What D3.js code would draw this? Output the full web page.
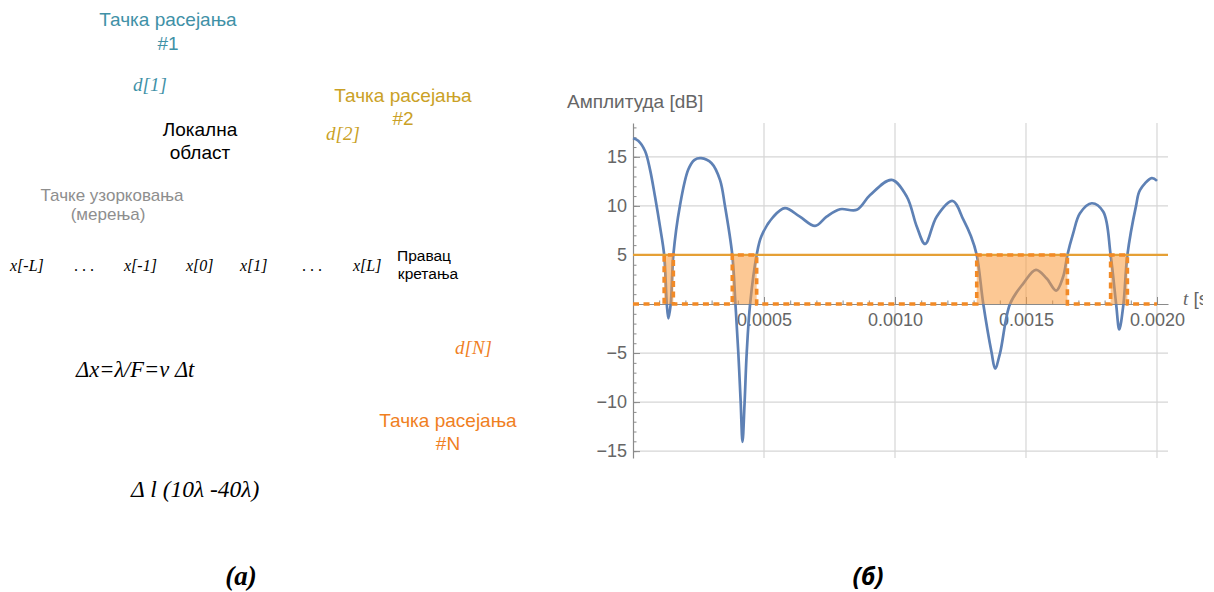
<!DOCTYPE html>
<html>
<head>
<meta charset="utf-8">
<script src="https://cdn.jsdelivr.net/npm/d3@7"></script>
<style>
  html, body { margin: 0; padding: 0; background: #ffffff; }
  svg { display: block; }
</style>
</head>
<body>
<svg id="fig" width="1214" height="592"></svg>
<script>
// ---- (б) amplitude of the received signal over time ----
const timeSec = [
  0.000000, 0.000020, 0.000046, 0.000065, 0.000084, 0.000103, 0.000119, 0.000129,
  0.000135, 0.000144, 0.000154, 0.000179, 0.000211, 0.000235, 0.000260, 0.000300,
  0.000332, 0.000351, 0.000379, 0.000391, 0.000402, 0.000411, 0.000418, 0.000426,
  0.000434, 0.000447, 0.000472, 0.000490, 0.000536, 0.000580, 0.000637, 0.000695,
  0.000739, 0.000790, 0.000854, 0.000905, 0.000987, 0.001045, 0.001083, 0.001115,
  0.001159, 0.001220, 0.001261, 0.001290, 0.001312, 0.001337, 0.001369, 0.001382,
  0.001401, 0.001439, 0.001490, 0.001538, 0.001579, 0.001615, 0.001642, 0.001658,
  0.001680, 0.001706, 0.001751, 0.001795, 0.001823, 0.001844, 0.001856, 0.001872,
  0.001887, 0.001920, 0.001935, 0.001980, 0.002000
];
const amplitudeDb = [
  16.9, 16.65, 15.6, 13.7, 10.95, 7.9, 5.0, 0.0,
  -1.46, 0.0, 5.0, 10.0, 13.7, 14.7, 14.87, 14.35,
  12.65, 10.0, 5.0, 0.0, -5.0, -10.0, -14.05, -10.0,
  -5.0, 0.0, 5.0, 6.9, 8.9, 9.77, 8.9, 7.96,
  8.9, 9.66, 9.6, 11.1, 12.65, 10.95, 7.9, 6.12,
  8.9, 10.5, 8.6, 6.9, 5.0, 0.0, -5.0, -6.57,
  -5.0, 0.0, 2.1, 3.47, 2.6, 1.36, 2.8, 5.0,
  7.2, 9.25, 10.27, 9.4, 5.0, 0.0, -2.59, 0.0,
  5.0, 10.0, 11.6, 12.83, 12.55
];
const thresholdDb = 5;
const tEnd = 0.002;

const xMajorTicks = [0.0005, 0.0010, 0.0015, 0.0020];
const xTickLabels = ["0.0005", "0.0010", "0.0015", "0.0020"];
const yMajorTicks = [-15, -10, -5, 5, 10, 15];
const yTickLabels = ["\u221215", "\u221210", "\u22125", "5", "10", "15"];
const xMinorTicks = d3.range(1, 21).map(k => k * 0.0001);
const yMinorTicks = d3.range(-15, 19);

// ---- (а) scattering geometry labels ----
const sampleLabels = ["x[-L]", ". . .", "x[-1]", "x[0]", "x[1]", ". . .", "x[L]"];
const sampleLabelX = [10, 74, 124, 186, 240, 302, 353];

const svg = d3.select("#fig");
const sans = "'Liberation Sans', Arial, sans-serif";
const serif = "'Liberation Serif', 'Times New Roman', serif";

// ---------- left panel ----------
const left = svg.append("g").attr("class", "panel-a");

function label(g, txt, x, y, opts) {
  const t = g.append("text")
    .attr("x", x).attr("y", y)
    .attr("text-anchor", opts.anchor || "start")
    .attr("font-family", opts.family || sans)
    .attr("font-size", opts.size)
    .attr("fill", opts.color || "#000")
    .text(txt);
  if (opts.italic) t.attr("font-style", "italic");
  if (opts.bold) t.attr("font-weight", "bold");
  return t;
}

const teal = "#3f91a7", gold = "#caa126", orange = "#f0801f";

label(left, "Тачка расејања", 168, 26, {anchor: "middle", size: 19, color: teal});
label(left, "#1", 168, 50, {anchor: "middle", size: 19, color: teal});
label(left, "d[1]", 133, 91, {family: serif, italic: true, size: 19, color: teal});

label(left, "Тачка расејања", 403, 102, {anchor: "middle", size: 19, color: gold});
label(left, "#2", 403, 125, {anchor: "middle", size: 19, color: gold});
label(left, "d[2]", 326, 140, {family: serif, italic: true, size: 19, color: gold});

label(left, "Локална", 200, 136, {anchor: "middle", size: 19, color: "#000"});
label(left, "област", 200, 159, {anchor: "middle", size: 19, color: "#000"});

label(left, "Тачке узорковања", 112, 201, {anchor: "middle", size: 17, color: "#8e8e8e"});
label(left, "(мерења)", 108, 220, {anchor: "middle", size: 17, color: "#8e8e8e"});

sampleLabels.forEach((s, i) => {
  label(left, s, sampleLabelX[i], 271, {family: serif, italic: !s.startsWith("."), size: 16, color: "#000"});
});
label(left, "Правац", 424, 261, {anchor: "middle", size: 15.5, color: "#000"});
label(left, "кретања", 428, 279, {anchor: "middle", size: 15.5, color: "#000"});

label(left, "d[N]", 455, 354, {family: serif, italic: true, size: 19, color: orange});
label(left, "Δx=λ/F=v Δt", 76, 377, {family: serif, italic: true, size: 22.5, color: "#000"});

label(left, "Тачка расејања", 448, 427, {anchor: "middle", size: 19, color: orange});
label(left, "#N", 448, 450, {anchor: "middle", size: 19, color: orange});

label(left, "Δ l (10λ -40λ)", 131, 497, {family: serif, italic: true, size: 23.5, color: "#000"});
label(left, "(а)", 241, 585, {anchor: "middle", family: serif, italic: true, bold: true, size: 27, color: "#000"});

// ---------- right panel: amplitude plot ----------
const plot = svg.append("g").attr("class", "panel-b");

const x = d3.scaleLinear().domain([0, 0.002042]).range([633, 1168]);
const y = d3.scaleLinear().domain([-15.7, 18.45]).range([458, 123]);

const gridColor = "#d6d6d6";
const axisColor = "#8a8a8a";
const tickText = "#666666";

// grid
plot.append("g").selectAll("line").data(xMajorTicks).join("line")
  .attr("x1", d => x(d)).attr("x2", d => x(d))
  .attr("y1", y.range()[1]).attr("y2", y.range()[0])
  .attr("stroke", gridColor).attr("stroke-width", 1.2);
plot.append("g").selectAll("line").data(yMajorTicks).join("line")
  .attr("x1", x.range()[0]).attr("x2", x.range()[1])
  .attr("y1", d => y(d)).attr("y2", d => y(d))
  .attr("stroke", gridColor).attr("stroke-width", 1.2);

// axes
function styleAxis(g) {
  g.select(".domain").attr("stroke", axisColor).attr("stroke-width", 1.2);
  g.selectAll(".tick line").attr("stroke", axisColor).attr("stroke-width", 1);
  g.selectAll(".tick text").attr("fill", tickText)
    .attr("font-family", sans).attr("font-size", 18);
}

const yMinor = plot.append("g").attr("transform", `translate(${x(0)},0)`)
  .call(d3.axisLeft(y).tickValues(yMinorTicks).tickSize(-3.5).tickSizeOuter(0).tickFormat(""));
yMinor.select(".domain").remove();
yMinor.selectAll(".tick line").attr("stroke", axisColor);

const yAxis = plot.append("g").attr("transform", `translate(${x(0)},0)`)
  .call(d3.axisLeft(y).tickValues(yMajorTicks).tickSize(-7).tickSizeOuter(0).tickPadding(6)
    .tickFormat((d, i) => yTickLabels[i]));
styleAxis(yAxis);

const xMinor = plot.append("g").attr("transform", `translate(0,${y(0)})`)
  .call(d3.axisBottom(x).tickValues(xMinorTicks).tickSize(-3.5).tickSizeOuter(0).tickFormat(""));
xMinor.select(".domain").remove();
xMinor.selectAll(".tick line").attr("stroke", axisColor);

const xAxis = plot.append("g").attr("transform", `translate(0,${y(0)})`)
  .call(d3.axisBottom(x).tickValues(xMajorTicks).tickSize(-7).tickSizeOuter(0).tickPadding(9)
    .tickFormat((d, i) => xTickLabels[i]));
styleAxis(xAxis);

// axis titles
plot.append("text")
  .attr("x", 567).attr("y", 108)
  .attr("font-family", sans).attr("font-size", 19).attr("fill", tickText)
  .text("Амплитуда [dB]");

svg.append("defs").append("clipPath").attr("id", "edge")
  .append("rect").attr("x", 0).attr("y", 0).attr("width", 1203).attr("height", 592);
const tl = plot.append("text")
  .attr("clip-path", "url(#edge)")
  .attr("x", 1183).attr("y", 305)
  .attr("font-family", sans).attr("font-size", 19).attr("fill", tickText);
tl.append("tspan").attr("font-style", "italic").attr("font-family", serif).text("t");
tl.append("tspan").text(" [s]");

// amplitude curve
const pts = timeSec.map((t, i) => [t, amplitudeDb[i]]);
plot.append("path")
  .datum(pts)
  .attr("fill", "none")
  .attr("stroke", "#5e81b5")
  .attr("stroke-width", 2.7)
  .attr("stroke-linejoin", "round")
  .attr("d", d3.line().x(d => x(d[0])).y(d => y(d[1])).curve(d3.curveCatmullRom.alpha(0.5)));

// intervals where the amplitude stays under the threshold
function underThreshold(ts, vs, thr) {
  const runs = [];
  let start = null;
  for (let i = 0; i < ts.length; i++) {
    const below = vs[i] < thr;
    if (below && start === null) {
      start = i === 0 ? ts[0]
        : ts[i - 1] + (thr - vs[i - 1]) * (ts[i] - ts[i - 1]) / (vs[i] - vs[i - 1]);
    } else if (!below && start !== null) {
      const end = ts[i - 1] + (thr - vs[i - 1]) * (ts[i] - ts[i - 1]) / (vs[i] - vs[i - 1]);
      runs.push([start, end]);
      start = null;
    }
  }
  if (start !== null) runs.push([start, ts[ts.length - 1]]);
  return runs;
}
const runs = underThreshold(timeSec, amplitudeDb, thresholdDb);

// shaded bands
const band = d3.area().x(d => x(d)).y0(y(0)).y1(y(thresholdDb));
plot.append("g").selectAll("path").data(runs).join("path")
  .attr("d", r => band(r))
  .attr("fill", "#f99a3c")
  .attr("fill-opacity", 0.55);

// threshold line
plot.append("line")
  .attr("x1", x.range()[0]).attr("x2", x.range()[1])
  .attr("y1", y(thresholdDb)).attr("y2", y(thresholdDb))
  .attr("stroke", "#e5a035").attr("stroke-width", 2.2);

// indicator step (dashed)
const step = [[0, 0]];
runs.forEach(([a, b]) => { step.push([a, 0], [a, thresholdDb], [b, thresholdDb], [b, 0]); });
step.push([tEnd, 0]);
plot.append("path")
  .datum(step)
  .attr("fill", "none")
  .attr("stroke", "#f28a26")
  .attr("stroke-width", 3.6)
  .attr("stroke-dasharray", "6,4.5")
  .attr("d", d3.line().x(d => x(d[0])).y(d => y(d[1])));

label(svg, "(б)", 868, 585, {anchor: "middle", family: "'Noto Sans', sans-serif", italic: true, bold: true, size: 25, color: "#000"});
</script>
</body>
</html>
